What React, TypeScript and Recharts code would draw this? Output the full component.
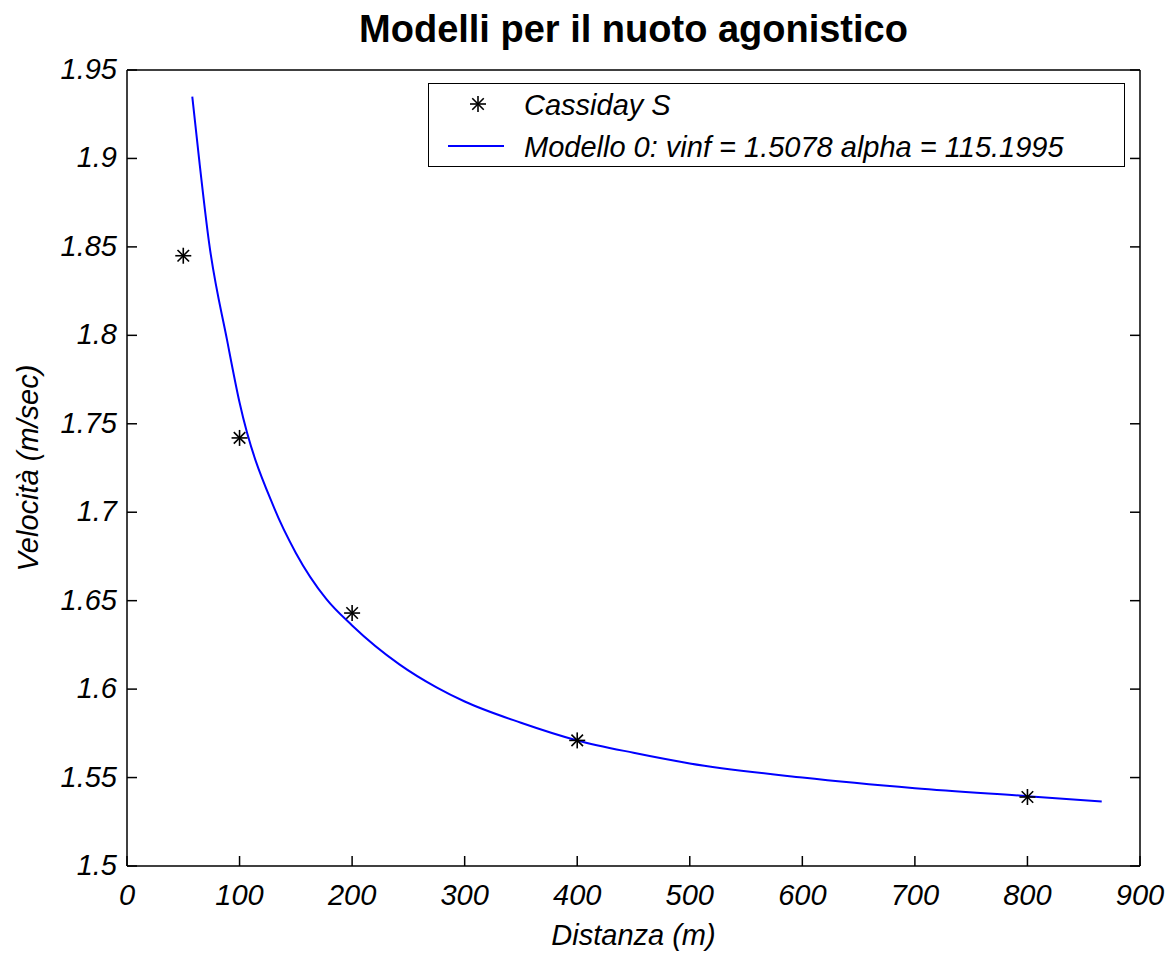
import { ComposedChart, Line, Scatter, XAxis, YAxis, Legend } from "recharts";

// Cassiday S: measured points
const distanze = [50, 100, 200, 400, 800];
const velocitaCassiday = [1.845, 1.742, 1.643, 1.571, 1.539];

// Modello 0 curve
const distanzeModello = [58, 64, 73, 89, 100, 131, 150, 177, 200, 242, 275, 300, 350, 400, 450, 500, 600, 700, 800, 866];
const velocitaModello = [1.935, 1.9, 1.852, 1.797, 1.762, 1.702, 1.677, 1.651, 1.636, 1.614, 1.601, 1.593, 1.581, 1.571, 1.564, 1.558, 1.55, 1.544, 1.5395, 1.5365];

const xTicks = [0, 100, 200, 300, 400, 500, 600, 700, 800, 900];
const yTicks = [1.5, 1.55, 1.6, 1.65, 1.7, 1.75, 1.8, 1.85, 1.9, 1.95];

const titolo = "Modelli per il nuoto agonistico";
const etichettaX = "Distanza (m)";
const etichettaY = "Velocità (m/sec)";
const nomeCassiday = "Cassiday S";
const nomeModello = "Modello 0: vinf = 1.5078 alpha = 115.1995";

const punti = distanze.map((d, i) => ({ d, v: velocitaCassiday[i] }));
const curva = distanzeModello.map((d, i) => ({ d, v: velocitaModello[i] }));

const FONT = "'Liberation Sans', Arial, Helvetica, sans-serif";
const TICK = 10;

const BottomTick = (p: any) => (
  <g>
    <line x1={p.x} y1={p.y} x2={p.x} y2={p.y - TICK} stroke="#000" strokeWidth={1.5} />
    <text x={p.x} y={p.y + 39} textAnchor="middle" fontSize={29} fontStyle="italic" fontFamily={FONT} fill="#000">
      {p.payload.value}
    </text>
  </g>
);

const TopTick = (p: any) => (
  <line x1={p.x} y1={p.y} x2={p.x} y2={p.y + TICK} stroke="#000" strokeWidth={1.5} />
);

const LeftTick = (p: any) => (
  <g>
    <line x1={p.x} y1={p.y} x2={p.x + TICK} y2={p.y} stroke="#000" strokeWidth={1.5} />
    <text x={p.x - 10} y={p.y + 9} textAnchor="end" fontSize={29} fontStyle="italic" fontFamily={FONT} fill="#000">
      {p.payload.value}
    </text>
  </g>
);

const RightTick = (p: any) => (
  <line x1={p.x} y1={p.y} x2={p.x - TICK} y2={p.y} stroke="#000" strokeWidth={1.5} />
);

const Star = (p: any) => {
  const { cx, cy } = p;
  const r = 8;
  const k = r * 0.72;
  return (
    <g stroke="#000" strokeWidth={1.6}>
      <line x1={cx - r} y1={cy} x2={cx + r} y2={cy} />
      <line x1={cx} y1={cy - r} x2={cx} y2={cy + r} />
      <line x1={cx - k} y1={cy - k} x2={cx + k} y2={cy + k} />
      <line x1={cx - k} y1={cy + k} x2={cx + k} y2={cy - k} />
    </g>
  );
};

const LegendBox = () => (
  <div
    style={{
      position: "absolute",
      left: 420,
      top: 75,
      width: 697,
      height: 84,
      border: "1.5px solid #000",
      background: "#fff",
      fontFamily: FONT,
      fontStyle: "italic",
      fontSize: 29,
      boxSizing: "border-box",
    }}
  >
    <svg width={697} height={84} style={{ position: "absolute", left: 0, top: 0 }}>
      <Star cx={49} cy={20} />
      <line x1={19} y1={62} x2={75} y2={62} stroke="#0000ff" strokeWidth={2} />
      <text x={95} y={31} fontSize={29} fontStyle="italic" fontFamily={FONT}>{nomeCassiday}</text>
      <text x={95} y={73} fontSize={29} fontStyle="italic" fontFamily={FONT}>{nomeModello}</text>
    </svg>
  </div>
);

export default function App() {
  return (
    <div style={{ position: "relative", width: 1167, height: 946, background: "#fff" }}>
      <ComposedChart width={1167} height={946} margin={{ top: 0, right: 0, bottom: 0, left: 0 }}>
        <XAxis
          dataKey="d"
          type="number"
          domain={[0, 900]}
          ticks={xTicks}
          height={88}
          tickSize={0}
          tickMargin={0}
          tick={BottomTick}
          axisLine={{ stroke: "#000", strokeWidth: 1.5 }}
          allowDataOverflow
          label={() => (
            <text x={625.5} y={937} textAnchor="middle" fontSize={29} fontStyle="italic" fontFamily={FONT} fill="#000">
              {etichettaX}
            </text>
          )}
        />
        <XAxis
          xAxisId="top"
          orientation="top"
          type="number"
          domain={[0, 900]}
          ticks={xTicks}
          height={62}
          tickSize={0}
          tickMargin={0}
          tick={TopTick}
          axisLine={{ stroke: "#000", strokeWidth: 1.5 }}
          allowDataOverflow
          label={() => (
            <text x={625.5} y={34} textAnchor="middle" fontSize={38} fontWeight="bold" fontFamily={FONT} fill="#000">
              {titolo}
            </text>
          )}
        />
        <YAxis
          type="number"
          domain={[1.5, 1.95]}
          ticks={yTicks}
          width={119}
          tickSize={0}
          tickMargin={0}
          tick={LeftTick}
          axisLine={{ stroke: "#000", strokeWidth: 1.5 }}
          allowDataOverflow
          label={() => (
            <text
              x={30}
              y={460}
              transform="rotate(-90 30 460)"
              textAnchor="middle"
              fontSize={29}
              fontStyle="italic"
              fontFamily={FONT}
              fill="#000"
            >
              {etichettaY}
            </text>
          )}
        />
        <YAxis
          yAxisId="right"
          orientation="right"
          type="number"
          domain={[1.5, 1.95]}
          ticks={yTicks}
          width={35}
          tickSize={0}
          tickMargin={0}
          tick={RightTick}
          axisLine={{ stroke: "#000", strokeWidth: 1.5 }}
          allowDataOverflow
        />
        <Line
          data={curva}
          dataKey="v"
          type="monotone"
          stroke="#0000ff"
          strokeWidth={2}
          dot={false}
          isAnimationActive={false}
        />
        <Scatter data={punti} dataKey="v" shape={Star} isAnimationActive={false} />
        <Legend content={() => null} />
      </ComposedChart>
      <LegendBox />
    </div>
  );
}
